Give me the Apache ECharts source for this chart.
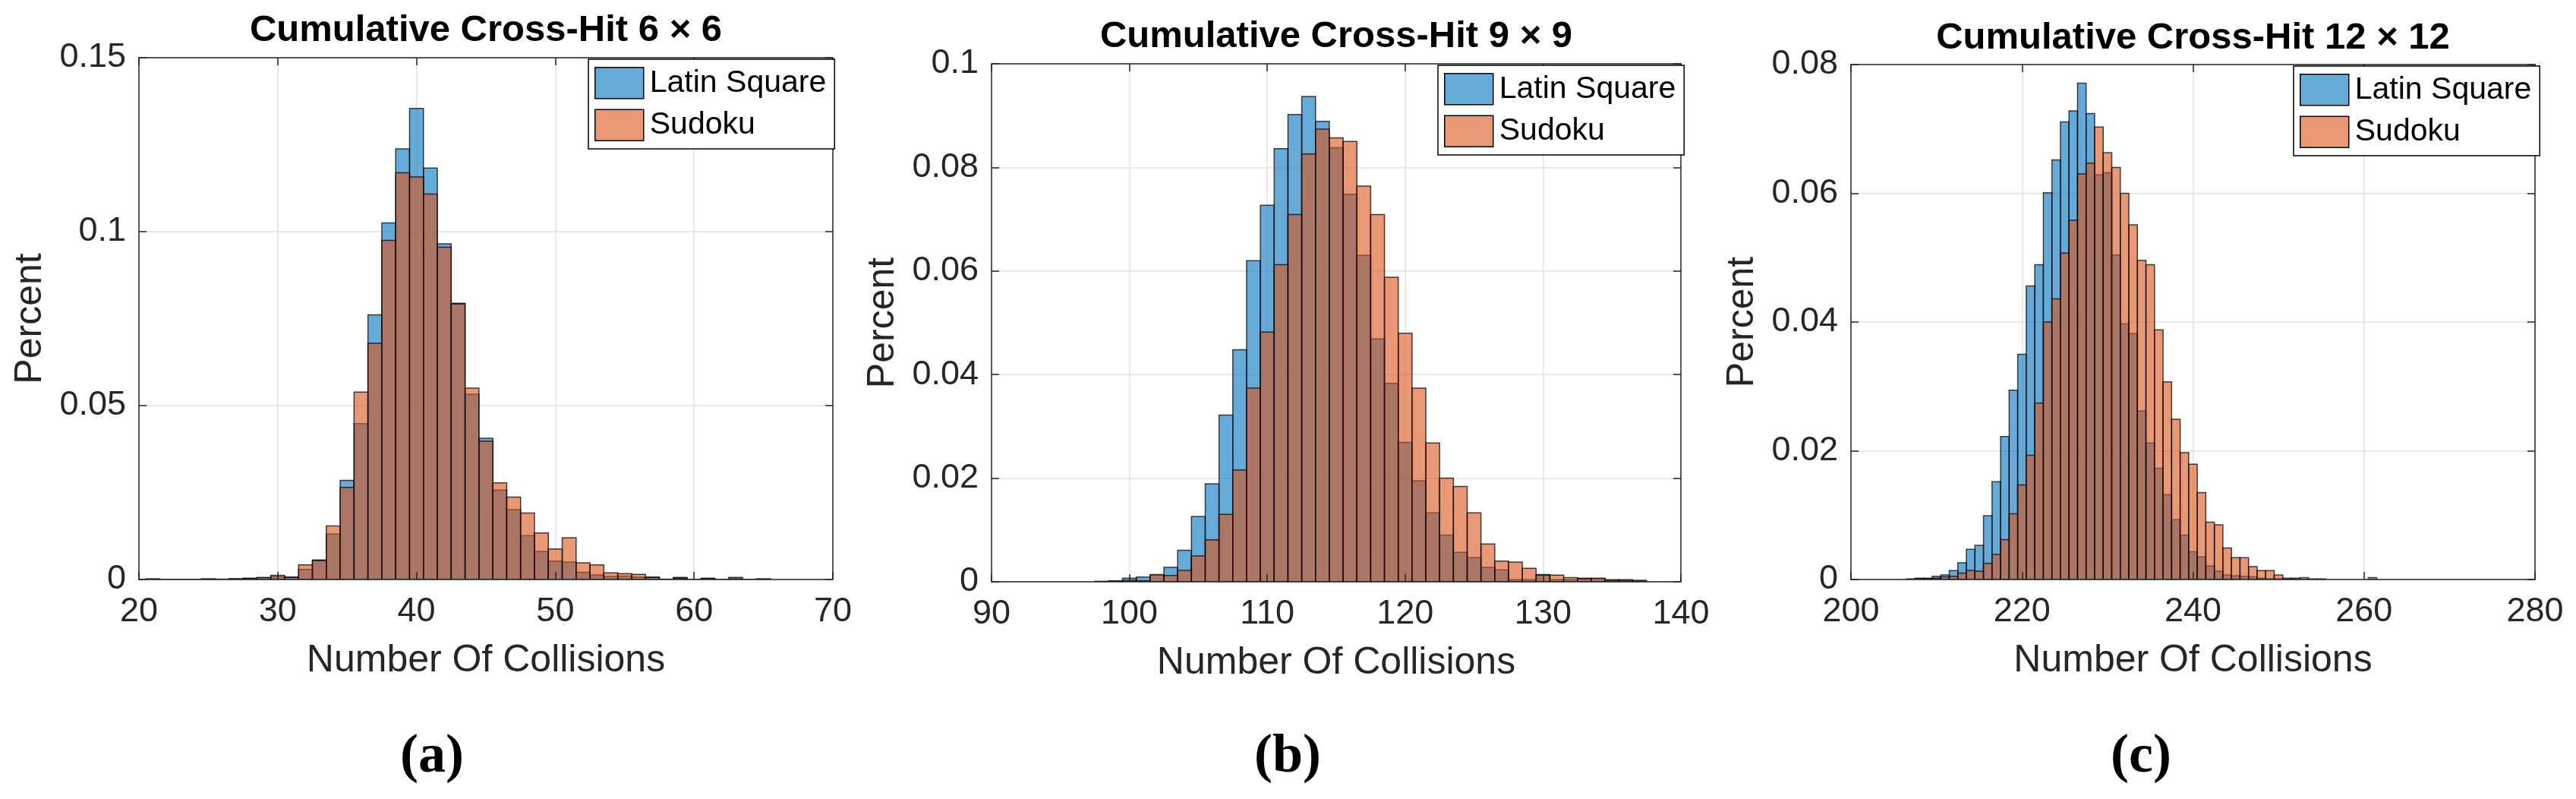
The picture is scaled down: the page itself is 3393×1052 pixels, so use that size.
<!DOCTYPE html>
<html>
<head>
<meta charset="utf-8">
<title>Cumulative Cross-Hit</title>
<script src="https://cdn.jsdelivr.net/npm/echarts/dist/echarts.min.js"></script>
<style>
  html, body { margin: 0; padding: 0; background: #fff; }
  #chart { width: 3393px; height: 1052px; }
</style>
</head>
<body>
<div id="chart"></div>
<script>
'use strict';

// ---- data (bin centre = number of collisions) ----
var bins6 = [21, 22, 23, 24, 25, 26, 27, 28, 29, 30, 31, 32, 33, 34, 35, 36, 37, 38, 39, 40,
    41, 42, 43, 44, 45, 46, 47, 48, 49, 50, 51, 52, 53, 54, 55, 56, 57, 58, 59, 60,
    61, 62, 63, 64, 65];
var latin6 = [0.0002, 0, 0, 0, 0.0002, 0, 0.0002, 0.0003, 0.0005, 0.0009, 0.0007, 0.0029, 0.0056, 0.0131, 0.0285, 0.0448, 0.0761, 0.1025, 0.1238, 0.1354,
    0.1183, 0.0965, 0.0794, 0.0533, 0.0406, 0.0257, 0.0201, 0.0126, 0.0081, 0.0053, 0.0050, 0.0021, 0.0013, 0.0009, 0.0010, 0.0007, 0.0007, 0, 0.0006, 0,
    0.0004, 0, 0.0003, 0, 0.0002];
var sudoku6 = [0.0001, 0, 0, 0, 0.0001, 0.0001, 0.0002, 0.0004, 0.0006, 0.0012, 0.0006, 0.0042, 0.0054, 0.0154, 0.0265, 0.0539, 0.0679, 0.0975, 0.1169, 0.1157,
    0.1108, 0.0955, 0.0792, 0.0550, 0.0398, 0.0278, 0.0237, 0.0191, 0.0134, 0.0088, 0.0120, 0.0048, 0.0042, 0.0019, 0.0017, 0.0015, 0.0006, 0.0001, 0.0004, 0,
    0.0002, 0, 0.0006, 0, 0.0001];

var bins9 = [98, 99, 100, 101, 102, 103, 104, 105, 106, 107, 108, 109, 110, 111, 112, 113, 114, 115, 116, 117,
    118, 119, 120, 121, 122, 123, 124, 125, 126, 127, 128, 129, 130, 131, 132, 133, 134, 135, 136, 137];
var latin9 = [0.0001, 0.0002, 0.0007, 0.0009, 0.0013, 0.0028, 0.0061, 0.0126, 0.0189, 0.0322, 0.0448, 0.0620, 0.0727, 0.0836, 0.0902, 0.0937, 0.0889, 0.0838, 0.0748, 0.0630,
    0.0469, 0.0383, 0.0269, 0.0195, 0.0133, 0.0090, 0.0057, 0.0047, 0.0028, 0.0023, 0.0004, 0.0004, 0.0014, 0.0004, 0.0004, 0.0007, 0.0006, 0.0004, 0.0004, 0.0003];
var sudoku9 = [0, 0.0001, 0.0003, 0.0002, 0.0014, 0.0012, 0.0022, 0.0050, 0.0081, 0.0130, 0.0216, 0.0374, 0.0482, 0.0612, 0.0709, 0.0826, 0.0874, 0.0857, 0.0850, 0.0764,
    0.0709, 0.0588, 0.0480, 0.0374, 0.0268, 0.0200, 0.0184, 0.0133, 0.0073, 0.0040, 0.0038, 0.0026, 0.0013, 0.0013, 0.0008, 0.0006, 0.0007, 0.0003, 0.0003, 0.0001];

var bins12 = [207, 208, 209, 210, 211, 212, 213, 214, 215, 216, 217, 218, 219, 220, 221, 222, 223, 224, 225, 226,
    227, 228, 229, 230, 231, 232, 233, 234, 235, 236, 237, 238, 239, 240, 241, 242, 243, 244, 245, 246,
    247, 248, 249, 250, 251, 252, 253, 254, 255, 261];
var latin12 = [0.0001, 0.0002, 0.0002, 0.0005, 0.0007, 0.0014, 0.0026, 0.0047, 0.0053, 0.0099, 0.0152, 0.0222, 0.0294, 0.0350, 0.0456, 0.0489, 0.0601, 0.0652, 0.0711, 0.0728,
    0.0771, 0.0724, 0.0629, 0.0632, 0.0504, 0.0397, 0.0382, 0.0262, 0.0212, 0.0173, 0.0132, 0.0093, 0.0069, 0.0043, 0.0035, 0.0021, 0.0013, 0.0007, 0.0006, 0.0005,
    0.0004, 0.0002, 0.0001, 0.0001, 0, 0, 0, 0, 0, 0];
var sudoku12 = [0, 0.0001, 0.0001, 0.0002, 0.0004, 0.0005, 0.0010, 0.0014, 0.0013, 0.0025, 0.0039, 0.0062, 0.0102, 0.0147, 0.0193, 0.0274, 0.0400, 0.0436, 0.0507, 0.0558,
    0.0630, 0.0647, 0.0703, 0.0663, 0.0640, 0.0600, 0.0551, 0.0496, 0.0489, 0.0388, 0.0307, 0.0249, 0.0197, 0.0179, 0.0135, 0.0089, 0.0085, 0.0049, 0.0034, 0.0034,
    0.0020, 0.0014, 0.0014, 0.0007, 0.0002, 0.0002, 0.0003, 0.0001, 0.0001, 0.0003];

var panelTitles = ['Cumulative Cross-Hit 6 \u00d7 6', 'Cumulative Cross-Hit 9 \u00d7 9', 'Cumulative Cross-Hit 12 \u00d7 12'];
var panelTags = ['a', 'b', 'c'];
var seriesNames = ['Latin Square', 'Sudoku'];
var xRanges = [[20, 70, 10], [90, 140, 10], [200, 280, 20]];
var yRanges = [[0, 0.15, 0.05], [0, 0.1, 0.02], [0, 0.08, 0.02]];

var FONT = 'Liberation Sans, Arial, Helvetica, sans-serif';
var INK = '#262626';
var GRIDLINE = '#e3e3e3';
var COLORS = ['rgba(0,114,189,0.6)', 'rgba(217,83,25,0.6)'];

// pixel layout of the three panels
var panels = [
    { left: 183, top: 76, width: 914, height: 687, titleTop: 12, legendLeft: 775, legendTop: 78, tagX: 569 },
    { left: 1306, top: 84, width: 908, height: 682, titleTop: 20, legendLeft: 1894, legendTop: 86, tagX: 1696 },
    { left: 2438, top: 85, width: 901, height: 678, titleTop: 22, legendLeft: 3021, legendTop: 87, tagX: 2820 }
];

function _pairs(bins, values) {
    var out = [];
    for (var i = 0; i < bins.length; i++) {
        out.push([bins[i], values[i]]);
    }
    return out;
}

var histData = [
    [_pairs(bins6, latin6), _pairs(bins6, sudoku6)],
    [_pairs(bins9, latin9), _pairs(bins9, sudoku9)],
    [_pairs(bins12, latin12), _pairs(bins12, sudoku12)]
];

// one histogram bar, one unit wide, centred on its bin
function _renderBar(params, api) {
    var x = api.value(0);
    var v = api.value(1);
    var p0 = api.coord([x - 0.5, v]);
    var p1 = api.coord([x + 0.5, 0]);
    return {
        type: 'rect',
        shape: { x: p0[0], y: p0[1], width: p1[0] - p0[0], height: p1[1] - p0[1] },
        style: { fill: api.visual('color'), stroke: 'rgba(0,0,0,0.72)', lineWidth: 1.5 }
    };
}

function _buildOption() {
    var grid = [], xAxis = [], yAxis = [], series = [], title = [], legend = [];

    panels.forEach(function(p, i) {
        grid.push({ left: p.left, top: p.top, width: p.width, height: p.height, containLabel: false });

        var xr = xRanges[i], yr = yRanges[i];
        // bottom axis: labels, name, ticks drawn above the bars
        xAxis.push({
            type: 'value', gridIndex: i, min: xr[0], max: xr[1], interval: xr[2], z: 5,
            name: 'Number Of Collisions', nameLocation: 'middle', nameGap: 82,
            nameTextStyle: { fontFamily: FONT, fontSize: 50, color: INK },
            axisLine: { show: true, onZero: false, lineStyle: { color: INK, width: 1.5 } },
            axisTick: { show: true, inside: true, length: 10, lineStyle: { color: INK, width: 1.5 } },
            axisLabel: { fontFamily: FONT, fontSize: 45, color: INK, margin: 20 },
            splitLine: { show: false }
        });
        // top axis: box edge, mirrored ticks and the vertical grid lines
        xAxis.push({
            type: 'value', gridIndex: i, position: 'top', min: xr[0], max: xr[1], interval: xr[2], z: 0,
            axisLine: { show: true, onZero: false, lineStyle: { color: INK, width: 1.5 } },
            axisTick: { show: true, inside: true, length: 10, lineStyle: { color: INK, width: 1.5 } },
            axisLabel: { show: false },
            splitLine: { show: true, lineStyle: { color: GRIDLINE, width: 1.5 } }
        });
        yAxis.push({
            type: 'value', gridIndex: i, min: yr[0], max: yr[1], interval: yr[2], z: 5,
            name: 'Percent', nameLocation: 'middle', nameGap: 118,
            nameTextStyle: { fontFamily: FONT, fontSize: 50, color: INK },
            axisLine: { show: true, onZero: false, lineStyle: { color: INK, width: 1.5 } },
            axisTick: { show: true, inside: true, length: 10, lineStyle: { color: INK, width: 1.5 } },
            axisLabel: { fontFamily: FONT, fontSize: 45, color: INK, margin: 17 },
            splitLine: { show: false }
        });
        yAxis.push({
            type: 'value', gridIndex: i, position: 'right', min: yr[0], max: yr[1], interval: yr[2], z: 0,
            axisLine: { show: true, onZero: false, lineStyle: { color: INK, width: 1.5 } },
            axisTick: { show: true, inside: true, length: 10, lineStyle: { color: INK, width: 1.5 } },
            axisLabel: { show: false },
            splitLine: { show: true, lineStyle: { color: GRIDLINE, width: 1.5 } }
        });

        seriesNames.forEach(function(name, s) {
            series.push({
                type: 'custom', name: name,
                xAxisIndex: i * 2, yAxisIndex: i * 2,
                itemStyle: { color: COLORS[s] },
                renderItem: _renderBar,
                clip: true, silent: true, animation: false,
                encode: { x: 0, y: 1 },
                data: histData[i][s]
            });
        });

        title.push({
            text: panelTitles[i], left: p.left + p.width / 2, top: p.titleTop, textAlign: 'center', padding: 0,
            textStyle: { fontFamily: FONT, fontSize: 49, fontWeight: 'bold', color: '#000', lineHeight: 56 }
        });
        title.push({
            text: '{p|(}{b|' + panelTags[i] + '}{p|)}', left: p.tagX, top: 955, textAlign: 'center', padding: 0,
            textStyle: {
                rich: {
                    p: { fontFamily: 'Liberation Serif, Times New Roman, serif', fontSize: 72, color: '#000', lineHeight: 84 },
                    b: { fontFamily: 'Liberation Serif, Times New Roman, serif', fontSize: 72, fontWeight: 'bold', color: '#000', lineHeight: 84 }
                }
            }
        });

        legend.push({
            data: seriesNames.slice(), orient: 'vertical', left: p.legendLeft, top: p.legendTop,
            icon: 'rect', itemWidth: 64, itemHeight: 41, itemGap: 13,
            padding: [10, 11, 10, 8], backgroundColor: '#fff', borderColor: '#000', borderWidth: 1.5,
            selectedMode: false,
            itemStyle: { borderColor: '#000', borderWidth: 1.5 },
            textStyle: { fontFamily: FONT, fontSize: 41, color: '#000', padding: [0, 0, 0, 3] }
        });
    });

    return {
        backgroundColor: '#fff',
        animation: false,
        title: title,
        legend: legend,
        grid: grid,
        xAxis: xAxis,
        yAxis: yAxis,
        series: series
    };
}

var chart = echarts.init(document.getElementById('chart'), null, { renderer: 'canvas' });
chart.setOption(_buildOption());
</script>
</body>
</html>
